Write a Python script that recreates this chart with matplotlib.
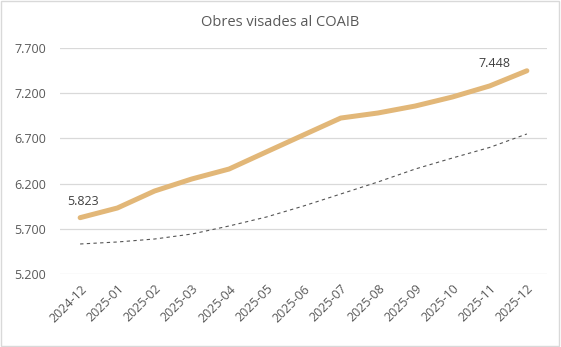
import matplotlib as mpl
mpl.use('Agg')
import matplotlib.pyplot as plt
from matplotlib.patches import Rectangle

plt.rcParams['font.family'] = ['Open Sans', 'DejaVu Sans']

# monthly data
months = ['2024-12', '2025-01', '2025-02', '2025-03', '2025-04', '2025-05', '2025-06',
          '2025-07', '2025-08', '2025-09', '2025-10', '2025-11', '2025-12']
obres = [5823, 5930, 6118, 6251, 6361, 6550, 6738, 6925, 6981, 7058, 7158, 7280, 7448]
tendencia = [5532, 5554, 5587, 5642, 5731, 5830, 5952, 6085, 6218, 6361, 6483, 6600, 6749]
yticks = [5200, 5700, 6200, 6700, 7200, 7700]

grey = '#595959'


def fmt(v):
    return '{:,}'.format(v).replace(',', '.')


fig = plt.figure(figsize=(5.61, 3.47), dpi=100)
ax = fig.add_axes([0.107, 0.2104, 0.868, 0.6513])

x = list(range(len(months)))
ax.plot(x, tendencia, color='#555555', lw=0.8, ls=(0, (3, 3)), zorder=2)
ax.plot(x, obres, color='#E2B778', lw=3.6, solid_capstyle='round', zorder=3)

ax.set_xlim(-0.54, len(months) - 1 + 0.54)
ax.set_ylim(yticks[0], yticks[-1])
ax.set_yticks(yticks)
ax.set_yticklabels([fmt(v) for v in yticks])
ax.set_xticks(x)
ax.set_xticklabels(months, rotation=45, ha='right', rotation_mode='anchor')
ax.tick_params(axis='both', length=0, colors=grey, labelsize=9)
ax.tick_params(axis='y', pad=10)
ax.tick_params(axis='x', pad=6)
ax.yaxis.grid(True, color='#d9d9d9', lw=0.9)
ax.set_axisbelow(True)
for s in ax.spines.values():
    s.set_visible(False)

# data labels for first and last point
ax.annotate(fmt(obres[0]), (x[0], obres[0]), xytext=(3, 16), textcoords='offset pixels',
            ha='center', va='center', fontsize=9, color='#404040')
ax.annotate(fmt(obres[-1]), (x[-1], obres[-1]), xytext=(-32, 7), textcoords='offset pixels',
            ha='center', va='center', fontsize=9, color='#404040')

fig.text(0.5, 0.935, 'Obres visades al COAIB', ha='center', va='center',
         fontsize=10.5, color=grey)

fig.patches.append(Rectangle((0.002, 0.003), 0.995, 0.994, transform=fig.transFigure,
                             fill=False, edgecolor='#d9d9d9', lw=1))

fig.savefig('out.png', dpi=100)
